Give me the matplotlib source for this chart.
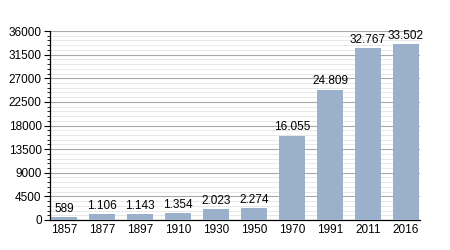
import matplotlib
matplotlib.use("Agg")
import matplotlib.pyplot as plt
from matplotlib.ticker import MultipleLocator

# dati popolazione
years = ["1857", "1877", "1897", "1910", "1930", "1950", "1970", "1991", "2011", "2016"]
population = [589, 1106, 1143, 1354, 2023, 2274, 16055, 24809, 32767, 33502]
value_labels = ["589", "1.106", "1.143", "1.354", "2.023", "2.274",
                "16.055", "24.809", "32.767", "33.502"]

BAR_COLOR = '#9ab0cb'
FS = 8.5

plt.rcParams['font.family'] = ['Liberation Sans', 'DejaVu Sans']

fig = plt.figure(figsize=(4.5, 2.5), dpi=100)
ax = fig.add_axes([50 / 450, 30 / 250, 370 / 450, 189 / 250])

x = list(range(len(years)))
ax.bar(x, population, width=0.68, color=BAR_COLOR, zorder=3)

for xi, v, lab in zip(x, population, value_labels):
    ax.text(xi, v + 450, lab, ha='center', va='bottom', fontsize=FS, zorder=4)

ax.set_xlim(-0.37, len(years) - 0.63)
ax.set_ylim(0, 36000)
ax.set_xticks(x)
ax.set_xticklabels(years, fontsize=FS)
ax.yaxis.set_major_locator(MultipleLocator(4500))
ax.yaxis.set_minor_locator(MultipleLocator(900))
ax.tick_params(axis='y', labelsize=FS, length=4, width=0.8, pad=2)
ax.tick_params(axis='y', which='minor', length=2, width=0.6)
ax.tick_params(axis='x', length=0, pad=3)

ax.grid(axis='y', which='major', color='#a8a8a8', linewidth=0.8, zorder=0)
ax.grid(axis='y', which='minor', color='#e4e4e4', linewidth=0.6, zorder=0)

for s in ['top', 'right']:
    ax.spines[s].set_visible(False)
ax.spines['left'].set_linewidth(0.9)
ax.spines['bottom'].set_linewidth(0.9)
ax.set_axisbelow(True)

fig.savefig("out.png", dpi=100)
